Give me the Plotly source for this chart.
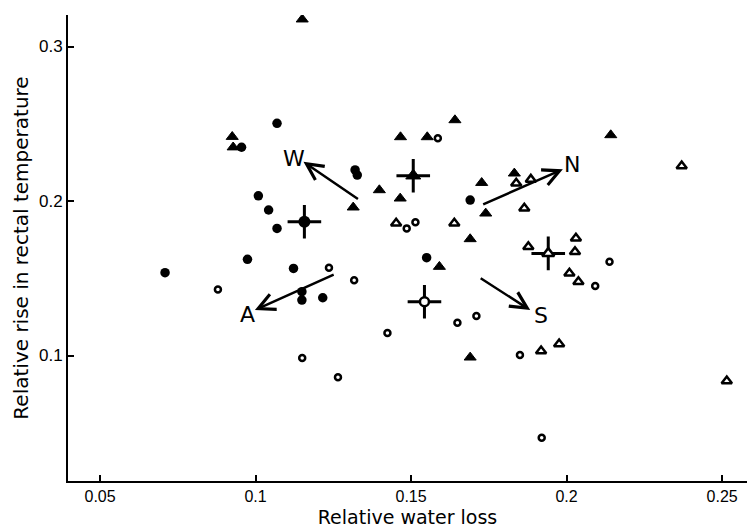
import plotly.graph_objects as go

# ---- data ----
filled_tri_x = [0.0925, 0.0928, 0.1150, 0.1641, 0.1466, 0.1552, 0.1398, 0.1465,
                0.1727, 0.1740, 0.1314, 0.1690, 0.1591, 0.1690, 0.2142, 0.1832]
filled_tri_y = [0.2416, 0.2348, 0.3176, 0.2524, 0.2414, 0.2414, 0.2071, 0.2017,
                0.2118, 0.1920, 0.1959, 0.1754, 0.1575, 0.0988, 0.2427, 0.2179]

filled_circ_x = [0.0955, 0.1069, 0.1009, 0.1042, 0.1069, 0.1320, 0.1327, 0.1690,
                 0.0974, 0.0709, 0.1122, 0.1149, 0.1149, 0.1216, 0.1550]
filled_circ_y = [0.2348, 0.2503, 0.2034, 0.1942, 0.1823, 0.2201, 0.2168, 0.2006,
                 0.1623, 0.1536, 0.1564, 0.1413, 0.1359, 0.1374, 0.1633]

open_circ_x = [0.1586, 0.1486, 0.1514, 0.0879, 0.1236, 0.1317, 0.1424, 0.1150,
               0.1265, 0.1649, 0.1710, 0.2138, 0.2092, 0.1850, 0.1920]
open_circ_y = [0.2406, 0.1823, 0.1862, 0.1428, 0.1568, 0.1487, 0.1146, 0.0984,
               0.0859, 0.1212, 0.1256, 0.1607, 0.1450, 0.1003, 0.0468]

open_tri_x = [0.1452, 0.1639, 0.1838, 0.1885, 0.1864, 0.2370, 0.1877, 0.2030,
              0.2027, 0.2009, 0.2038, 0.1918, 0.1976, 0.2515]
open_tri_y = [0.1856, 0.1856, 0.2115, 0.2140, 0.1953, 0.2227, 0.1704, 0.1759,
              0.1672, 0.1532, 0.1478, 0.1029, 0.1074, 0.0835]

# group means (crosses): filled circle, filled triangle, open circle, open triangle
mean_fc_x, mean_fc_y = [0.1157], [0.1866]
mean_ft_x, mean_ft_y = [0.1507], [0.2164]
mean_oc_x, mean_oc_y = [0.1543], [0.1348]
mean_ot_x, mean_ot_y = [0.1941], [0.1661]

# direction arrows: tail -> head, with letter position
arrow_names = ["W", "N", "S", "A"]
arrow_tail_x = [0.1334, 0.1727, 0.1719, 0.1256]
arrow_tail_y = [0.2006, 0.1974, 0.1506, 0.1528]
arrow_head_x = [0.1154, 0.1988, 0.1883, 0.0998]
arrow_head_y = [0.2254, 0.2205, 0.1294, 0.1294]
label_x = [0.1124, 0.2018, 0.1919, 0.0973]
label_y = [0.2275, 0.2235, 0.1262, 0.1265]

x_ticks = [0.05, 0.1, 0.15, 0.2, 0.25]
x_ticktext = ["0.05", "0.1", "0.15", "0.2", "0.25"]
y_ticks = [0.1, 0.2, 0.3]
y_ticktext = ["0.1", "0.2", "0.3"]

FONT = "Liberation Sans"
FONT_T = "DejaVu Sans"


def pts(x, y, symbol, size, color, lw=0.0):
    return go.Scatter(x=x, y=y, mode="markers", showlegend=False, hoverinfo="x+y",
                      marker=dict(symbol=symbol, size=size, color=color, opacity=1,
                                  line=dict(width=lw, color="black")))


fig = go.Figure()
fig.add_trace(pts(filled_circ_x, filled_circ_y, "circle", 9.5, "black"))
fig.add_trace(pts(filled_tri_x, filled_tri_y, "triangle-up", 10.5, "black", 1))
fig.add_trace(pts(open_circ_x, open_circ_y, "circle", 6, "white", 2.5))
fig.add_trace(pts(open_tri_x, open_tri_y, "triangle-up", 9, "white", 2.5))

# mean crosses
all_mx = mean_fc_x + mean_ft_x + mean_oc_x + mean_ot_x
all_my = mean_fc_y + mean_ft_y + mean_oc_y + mean_ot_y
fig.add_trace(pts(all_mx, all_my, "cross-thin", 24, "black", 3))
fig.add_trace(pts(mean_fc_x, mean_fc_y, "circle", 12, "black"))
fig.add_trace(pts(mean_ft_x, mean_ft_y, "triangle-up", 13, "black", 1))
fig.add_trace(pts(mean_oc_x, mean_oc_y, "circle", 9, "white", 2.5))
fig.add_trace(pts(mean_ot_x, mean_ot_y, "triangle-up", 10.5, "white", 2.5))

for i, name in enumerate(arrow_names):
    fig.add_annotation(x=arrow_head_x[i], y=arrow_head_y[i],
                       ax=arrow_tail_x[i], ay=arrow_tail_y[i],
                       xref="x", yref="y", axref="x", ayref="y",
                       text="", showarrow=True, arrowhead=5, arrowsize=1.3,
                       arrowwidth=2.5, arrowcolor="black")
    fig.add_annotation(x=label_x[i], y=label_y[i], xref="x", yref="y",
                       text=name, showarrow=False,
                       font=dict(family=FONT_T, size=22, color="black"))

fig.update_layout(
    width=747, height=529,
    margin=dict(l=68, r=0, t=15, b=48),
    paper_bgcolor="white", plot_bgcolor="white",
    font=dict(family=FONT, color="black"),
    xaxis=dict(range=[0.0397, 0.258], tickvals=x_ticks, ticktext=x_ticktext,
               ticks="inside", ticklen=6, tickwidth=2, tickcolor="black",
               showline=True, linewidth=2, linecolor="black",
               showgrid=False, zeroline=False,
               tickfont=dict(family=FONT, size=16, color="black"),
               title=dict(text="Relative water loss", standoff=6,
                          font=dict(family=FONT_T, size=19, color="black"))),
    yaxis=dict(range=[0.0188, 0.3204], tickvals=y_ticks, ticktext=y_ticktext,
               ticks="inside", ticklen=6, tickwidth=2, tickcolor="black",
               showline=True, linewidth=2, linecolor="black",
               showgrid=False, zeroline=False,
               tickfont=dict(family=FONT, size=17, color="black"),
               title=dict(text="Relative rise in rectal temperature", standoff=5,
                          font=dict(family=FONT_T, size=20, color="black"))),
)

fig.write_html("out.html")
